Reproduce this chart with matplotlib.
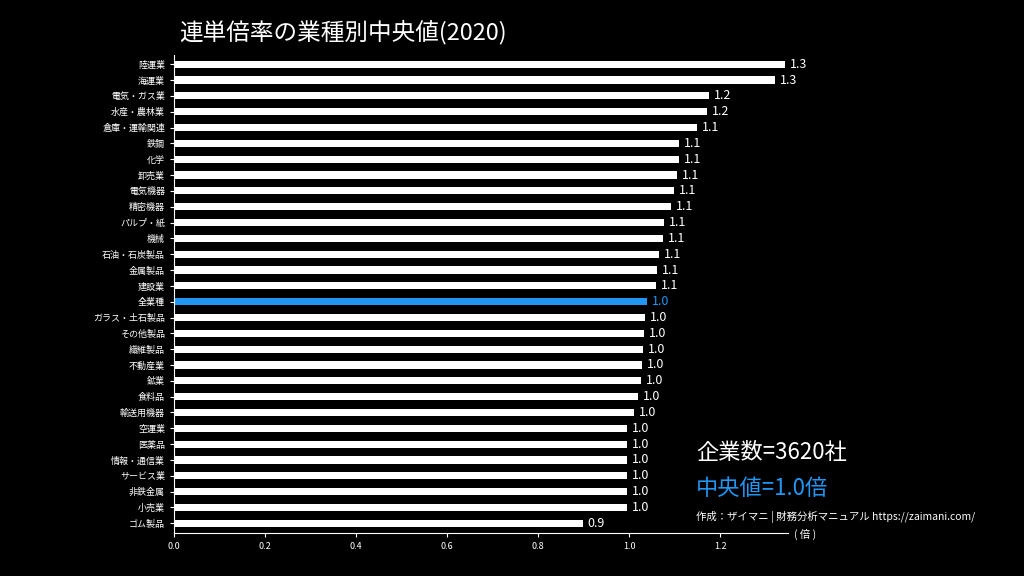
import matplotlib
matplotlib.use("Agg")
import matplotlib.pyplot as plt

plt.rcParams["font.family"] = ["Noto Sans CJK JP", "DejaVu Sans"]

categories = ["陸運業","海運業","電気・ガス業","水産・農林業","倉庫・運輸関連","鉄鋼","化学","卸売業",
              "電気機器","精密機器","パルプ・紙","機械","石油・石炭製品","金属製品","建設業","全業種",
              "ガラス・土石製品","その他製品","繊維製品","不動産業","鉱業","食料品","輸送用機器","空運業",
              "医薬品","情報・通信業","サービス業","非鉄金属","小売業","ゴム製品"]
values = [1.343,1.321,1.176,1.171,1.149,1.110,1.110,1.105,1.099,1.092,1.077,1.075,1.066,1.062,1.059,
          1.040,1.035,1.033,1.031,1.029,1.026,1.020,1.011,0.996,0.996,0.996,0.996,0.996,0.996,0.899]
xticks = [0.0,0.2,0.4,0.6,0.8,1.0,1.2]

fig = plt.figure(figsize=(10.24,5.76), dpi=100, facecolor="black")
ax = fig.add_axes([0.17,0.075,0.60,0.83], facecolor="black")
ys = list(range(len(categories)))[::-1]
colors = ["#2196f3" if c == "全業種" else "white" for c in categories]
ax.barh(ys, values, height=0.45, color=colors)
for y, v, c in zip(ys, values, colors):
    ax.text(v+0.01, y, f"{v:.1f}", color=c, va="center", ha="left", fontsize=9)
ax.set_yticks(ys)
ax.set_yticklabels(categories, fontsize=6.5, color="white")
ax.set_xticks(xticks)
ax.set_xticklabels([f"{t:.1f}" for t in xticks], fontsize=6.5, color="white")
ax.set_xlim(0,1.35)
ax.set_ylim(-0.6, len(categories)-0.4)
for s in ["top","right"]:
    ax.spines[s].set_visible(False)
for s in ["left","bottom"]:
    ax.spines[s].set_color("white")
ax.tick_params(colors="white", length=3)

fig.text(0.175,0.945,"連単倍率の業種別中央値(2020)", color="white", fontsize=17, va="center")
fig.text(0.68,0.215,"企業数=3620社", color="white", fontsize=16, va="center")
fig.text(0.68,0.152,"中央値=1.0倍", color="#2196f3", fontsize=16, va="center")
fig.text(0.68,0.102,"作成：ザイマニ | 財務分析マニュアル https://zaimani.com/", color="white", fontsize=7.5, va="center")
fig.text(0.775,0.073,"( 倍 )", color="white", fontsize=7.5, va="center")
fig.savefig("out.png", dpi=100, facecolor="black")
